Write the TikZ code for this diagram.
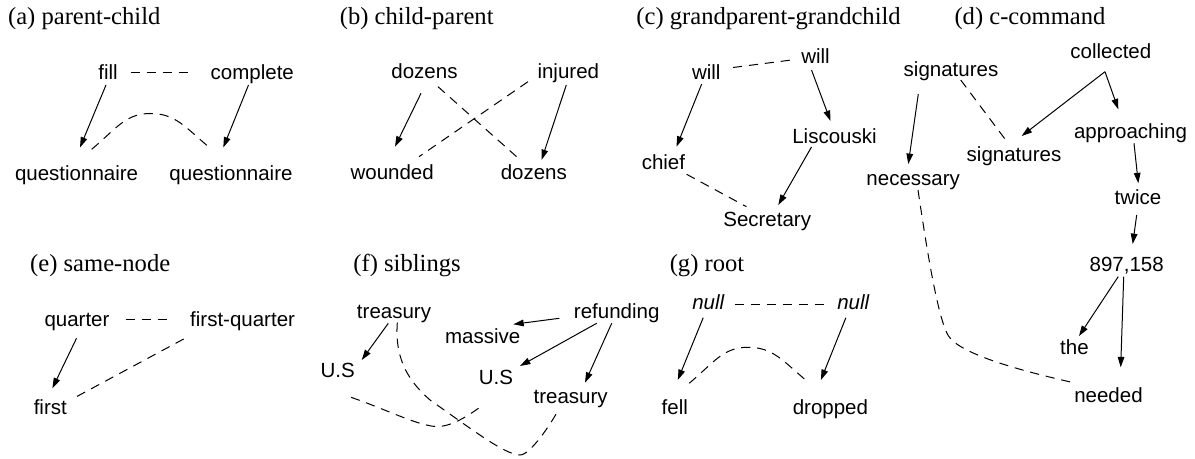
\documentclass[tikz,border=0pt]{standalone}
\usepackage{fontspec}
\setmainfont{Liberation Serif}
\setsansfont{Liberation Sans}
\usetikzlibrary{arrows.meta}
\newcommand{\wfont}{\sffamily\fontsize{10.25}{12}\selectfont}
\newcommand{\labfont}{\rmfamily\fontsize{12.3}{14}\selectfont}
\tikzset{
  w/.style={font=\wfont, inner sep=0pt, text height=7.4pt, text depth=1pt},
  wi/.style={w, font=\wfont\itshape},
  lab/.style={font=\labfont, anchor=base west, inner sep=0pt},
  arr/.style={-{Triangle[length=5.2pt,width=3.3pt]}, line width=0.5pt},
  dsh/.style={dash pattern=on 4.6pt off 3.4pt, line width=0.5pt}
}
\begin{document}
\begin{tikzpicture}[x=0.5pt,y=-0.5pt]
\useasboundingbox (0,0) rectangle (1195,459);
% labels
\node[lab] (la) at (7.7,24.8) {(a) parent-child};
\node[lab] (lb) at (339.5,24.8) {(b) child-parent};
\node[lab] (lc) at (636,24.8) {(c) grandparent-grandchild};
\node[lab] (ld) at (954.1,24.8) {(d) c-command};
\node[lab] (le) at (29.8,271.2) {(e) same-node};
\node[lab] (lf) at (353,271.2) {(f) siblings};
\node[lab] (lg) at (669.4,271.2) {(g) root};
% (a)
\node[w] (fillA) at (108,73) {fill};
\node[w] (compA) at (252.3,73) {complete};
\node[w] (qA1) at (76.6,174) {questionnaire};
\node[w] (qA2) at (231,174) {questionnaire};
\coordinate (pkA) at (150.5,113.5);
\draw[dsh] ([shift={(23,0)}]fillA.center) -- ([shift={(-62.3,0)}]compA.center);
\draw[arr] ([shift={(-2,12)}]fillA.center) -- ([shift={(3.4,-26.5)}]qA1.center);
\draw[arr] ([shift={(-3.8,12)}]compA.center) -- ([shift={(-7.7,-26.5)}]qA2.center);
\draw[dsh] ([shift={(15.1,-24.7)}]qA1.center) .. controls +(25,-21) and +(-25,0) .. (pkA) .. controls +(25,0) and +(-25,-21) .. ([shift={(-20.7,-25.7)}]qA2.center);
% (b)
\node[w] (dozT) at (424.5,72) {dozens};
\node[w] (inj) at (568.3,72) {injured};
\node[w] (wnd) at (392.2,173) {wounded};
\node[w] (dozB) at (533.8,173) {dozens};
\draw[arr] ([shift={(-3.5,21.3)}]dozT.center) -- ([shift={(2.8,-26.3)}]wnd.center);
\draw[arr] ([shift={(-2,13)}]inj.center) -- ([shift={(7.7,-13)}]dozB.center);
\draw[dsh] ([shift={(13.5,14.7)}]dozT.center) -- ([shift={(-17.2,-16.3)}]dozB.center);
\draw[dsh] ([shift={(-40.3,9.7)}]inj.center) -- ([shift={(26.8,-16.3)}]wnd.center);
% (c)
\node[w] (willL) at (706.3,73) {will};
\node[w] (willR) at (815.5,56.7) {will};
\node[w] (chief) at (663.4,163.3) {chief};
\node[w] (lis) at (834.5,136.7) {Liscouski};
\node[w] (sec) at (767.2,220) {Secretary};
\draw[dsh] ([shift={(26.7,-5.5)}]willL.center) -- ([shift={(-24,3.3)}]willR.center);
\draw[arr] ([shift={(-4.6,11)}]willL.center) -- ([shift={(13.1,-16.6)}]chief.center);
\draw[arr] ([shift={(-4,13.3)}]willR.center) -- ([shift={(-4,-15.7)}]lis.center);
\draw[arr] ([shift={(-23,10.3)}]lis.center) -- ([shift={(11.1,-15)}]sec.center);
\draw[dsh] ([shift={(23.2,11)}]chief.center) -- ([shift={(-20.7,-13.3)}]sec.center);
% (d)
\node[w] (sigT) at (951,70) {signatures};
\node[w] (coll) at (1110.8,52.3) {collected};
\node[w] (sigM) at (1014,155) {signatures};
\node[w] (appr) at (1130.5,132) {approaching};
\node[w] (nec) at (913.2,179.3) {necessary};
\node[w] (twice) at (1138,198) {twice};
\node[w] (num) at (1126.7,265) {897,158};
\node[w] (the) at (1074.4,348.3) {the};
\node[w] (needed) at (1108.5,395.7) {needed};
\coordinate (mD) at (949,336.7);
\draw[arr] ([shift={(-32.7,24)}]sigT.center) -- ([shift={(-4.9,-15.3)}]nec.center);
\draw[dsh] ([shift={(9.7,10)}]sigT.center) -- ([shift={(-8.3,-15)}]sigM.center);
\draw[arr] ([shift={(-5.8,19.4)}]coll.center) -- ([shift={(7.7,-19)}]sigM.center);
\draw[arr] ([shift={(-5.8,19.4)}]coll.center) -- ([shift={(-12.2,-22.7)}]appr.center);
\draw[arr] ([shift={(3.5,11.3)}]appr.center) -- ([shift={(0.3,-14.7)}]twice.center);
\draw[arr] ([shift={(-1.3,17)}]twice.center) -- ([shift={(6,-21)}]num.center);
\draw[arr] ([shift={(-8.5,11.7)}]num.center) -- ([shift={(4.6,-12.3)}]the.center);
\draw[arr] ([shift={(-3,11.7)}]num.center) -- ([shift={(12.2,-28.4)}]needed.center);
\draw[dsh] ([shift={(4.8,10.7)}]nec.center) .. controls +(6,40) and +(-12,-17) .. (mD) .. controls +(14,20) and +(-40,-9) .. ([shift={(-32.2,-12.4)}]needed.center);
% (e)
\node[w] (quarter) at (77,320) {quarter};
\node[w] (fq) at (242.6,320) {first-quarter};
\node[w] (first) at (50.3,408.3) {first};
\draw[dsh] ([shift={(48.5,0)}]quarter.center) -- ([shift={(-76.1,0)}]fq.center);
\draw[arr] ([shift={(-0.5,18.3)}]quarter.center) -- ([shift={(2.1,-20)}]first.center);
\draw[dsh] ([shift={(-58.9,19)}]fq.center) -- ([shift={(26.2,-11.6)}]first.center);
% (f)
\node[w] (tsyL) at (394,312.5) {treasury};
\node[w] (massive) at (482.7,337.3) {massive};
\node[w] (refund) at (616.7,311.7) {refunding};
\node[w] (usL) at (337.7,370.7) {U.S};
\node[w] (usR) at (496,378.3) {U.S};
\node[w] (tsyR) at (570.7,397.3) {treasury};
\coordinate (bF1) at (435,426.5);
\coordinate (dF1) at (430,400);
\coordinate (dF2) at (520,455);
\draw[arr] ([shift={(-5.7,10.8)}]tsyL.center) -- ([shift={(24,-10.7)}]usL.center);
\draw[arr] ([shift={(-57.4,6.6)}]refund.center) -- ([shift={(30.6,-13)}]massive.center);
\draw[arr] ([shift={(-20,11.6)}]refund.center) -- ([shift={(24,-12.3)}]usR.center);
\draw[arr] ([shift={(-5,11.6)}]refund.center) -- ([shift={(14.3,-14.6)}]tsyR.center);
\draw[dsh] ([shift={(13.3,26.6)}]usL.center) .. controls +(35,12) and +(-20,-2) .. (bF1) .. controls +(15,1) and +(-14,10) .. ([shift={(-15.3,28.4)}]usR.center);
\draw[dsh] ([shift={(3.3,10.2)}]tsyL.center) .. controls +(-3,40) and +(-18,-16) .. (dF1) .. controls +(40,28) and +(-15,0) .. (dF2) .. controls +(10,0) and +(-8,15) .. ([shift={(-12.4,12.7)}]tsyR.center);
% (g)
\node[wi] (nullL) at (708.2,303) {null};
\node[wi] (nullR) at (853.3,303) {null};
\node[w] (fell) at (674.8,408.3) {fell};
\node[w] (dropped) at (830.4,408.3) {dropped};
\coordinate (pkG) at (748,347.3);
\draw[dsh] ([shift={(26.7,2)}]nullL.center) -- ([shift={(-26.6,2)}]nullR.center);
\draw[arr] ([shift={(-5,14.7)}]nullL.center) -- ([shift={(3,-28.3)}]fell.center);
\draw[arr] ([shift={(-7.4,14.7)}]nullR.center) -- ([shift={(-9.5,-28.3)}]dropped.center);
\draw[dsh] ([shift={(14.4,-25)}]fell.center) .. controls +(25,-21) and +(-25,0) .. (pkG) .. controls +(25,0) and +(-25,-21) .. ([shift={(-22.8,-26.6)}]dropped.center);
\end{tikzpicture}
\end{document}
